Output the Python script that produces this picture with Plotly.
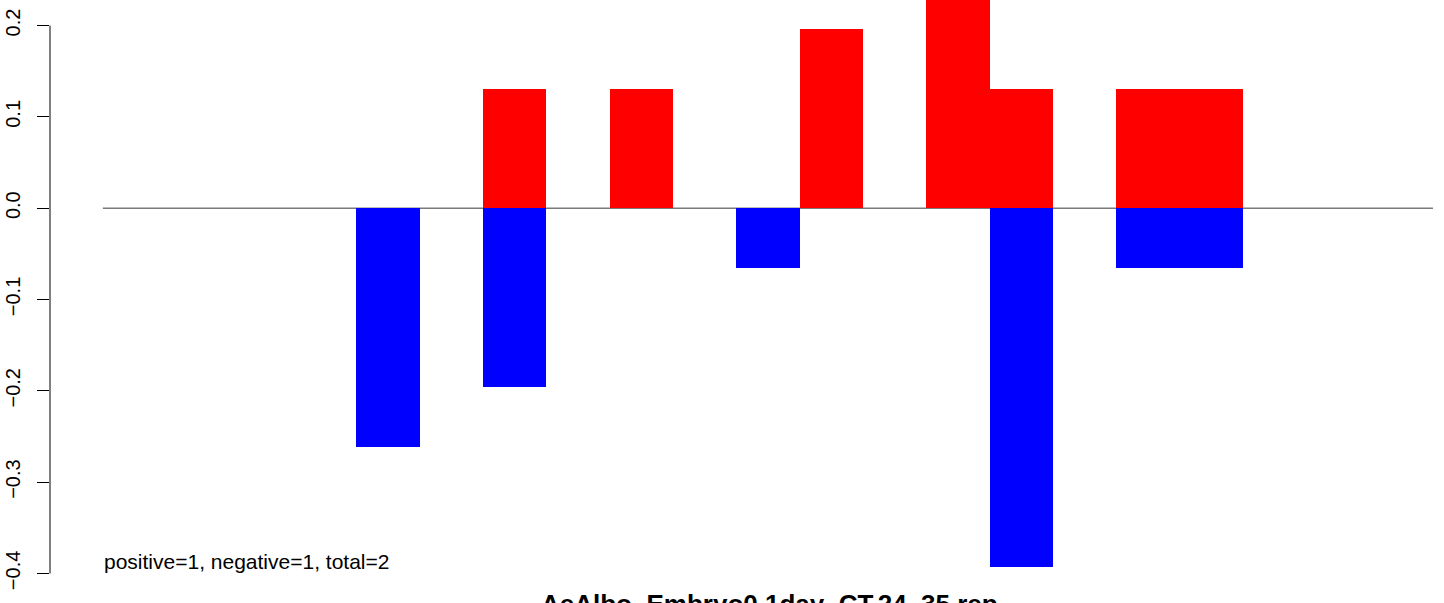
import plotly.graph_objects as go

# Data (one slot per bar position)
slots = list(range(21))
positive = [0, 0, 0, 0, 0, 0, 0.1309, 0, 0.1309, 0, 0, 0.1963, 0, 0.2618, 0.1309, 0, 0.1309, 0.1309, 0, 0, 0]
negative = [0, 0, 0, 0, -0.2618, 0, -0.1963, 0, 0, 0, -0.0654, 0, 0, 0, -0.3927, 0, -0.0654, -0.0654, 0, 0, 0]
ytick_vals = [-0.4, -0.3, -0.2, -0.1, 0.0, 0.1, 0.2]
ytick_text = ["\u22120.4", "\u22120.3", "\u22120.2", "\u22120.1", "0.0", "0.1", "0.2"]
title_text = "AeAlbo_Embryo0.1day_CT.24_35.rep"
note_text = "positive=1, negative=1, total=2"

FONT = "Liberation Sans, Arial, Helvetica, sans-serif"

fig = go.Figure()
fig.add_trace(go.Bar(x=slots, y=positive, marker=dict(color="#FF0000", line=dict(width=0)), width=1.0))
fig.add_trace(go.Bar(x=slots, y=negative, marker=dict(color="#0000FF", line=dict(width=0)), width=1.0))

# zero reference line across all bar slots
fig.add_shape(type="line", xref="x", yref="y", x0=slots[0] - 0.5, x1=slots[-1] + 0.5, y0=0, y1=0,
              line=dict(color="#7a7a7a", width=1.5), layer="below")
# R-style axis line spanning only the tick range
fig.add_shape(type="line", xref="paper", yref="y", x0=0, x1=0, y0=ytick_vals[0], y1=ytick_vals[-1],
              line=dict(color="black", width=1))

fig.add_annotation(x=slots[0] - 0.5, y=-0.3864, xref="x", yref="y", text=note_text, showarrow=False,
                   xanchor="left", yanchor="middle", borderpad=0,
                   font=dict(family=FONT, size=21, color="black"))
fig.add_annotation(x=0.5158, y=0.0256, xref="paper", yref="paper", text="<b>" + title_text + "</b>",
                   showarrow=False, xanchor="center", yanchor="top", borderpad=0,
                   font=dict(family=FONT, size=26, color="black"))

fig.update_layout(
    width=1444, height=603,
    margin=dict(l=50, r=0, t=0, b=0),
    paper_bgcolor="white", plot_bgcolor="white",
    barmode="relative", bargap=0, showlegend=False,
    font=dict(family=FONT, color="black"),
)
fig.update_xaxes(range=[-1.334, 20.674], visible=False, showgrid=False, zeroline=False)
fig.update_yaxes(range=[-0.4324, 0.228], showgrid=False, zeroline=False, showline=False,
                 tickmode="array", tickvals=ytick_vals, ticktext=ytick_text,
                 ticks="outside", ticklen=12, tickwidth=1, tickcolor="black",
                 tickangle=-90, tickfont=dict(family=FONT, size=20, color="black"),
                 ticklabelstandoff=9)

fig.write_html("out.html", config={"displayModeBar": False},
               post_script="document.body.style.margin='0';document.body.style.overflow='hidden';")
